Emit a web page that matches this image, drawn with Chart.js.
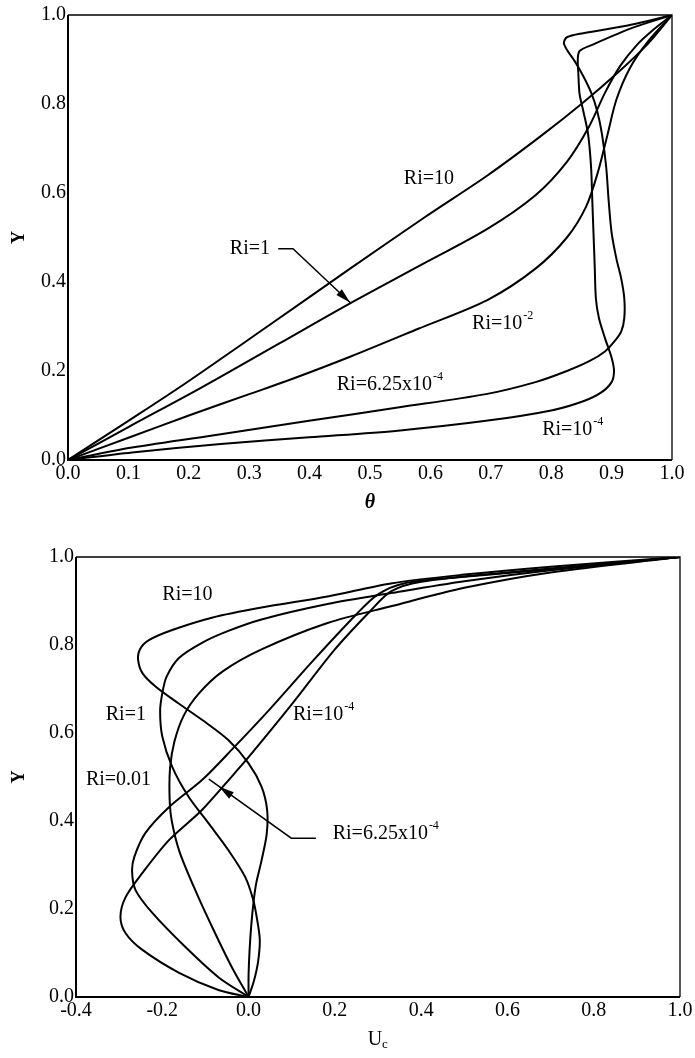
<!DOCTYPE html>
<html>
<head>
<meta charset="utf-8">
<script src="https://cdn.jsdelivr.net/npm/chart.js@4.4.1/dist/chart.umd.min.js"></script>
<style>
  body { margin: 0; background: #fff; width: 695px; height: 1058px; position: relative; overflow: hidden; }
  canvas { position: absolute; left: 0; }
  #topChart { top: 0; }
  #bottomChart { top: 540px; }
</style>
</head>
<body>
<canvas id="topChart" width="695" height="520"></canvas>
<canvas id="bottomChart" width="695" height="518"></canvas>
<script>
// --- data: top panel, theta vs Y ---
const thetaTicks = [0, 0.1, 0.2, 0.3, 0.4, 0.5, 0.6, 0.7, 0.8, 0.9, 1.0];
const yTicks = [0, 0.2, 0.4, 0.6, 0.8, 1.0];

const thetaRi10 = [[0,0],[0.1,0.088],[0.194,0.172],[0.33,0.30],[0.467,0.43],[0.59,0.545],[0.695,0.64],[0.78,0.725],[0.85,0.80],[0.91,0.87],[0.96,0.935],[1,1]];
const thetaRi1 = [[0,0],[0.1,0.074],[0.22,0.162],[0.35,0.262],[0.467,0.352],[0.58,0.435],[0.695,0.52],[0.774,0.595],[0.826,0.67],[0.863,0.75],[0.889,0.825],[0.914,0.885],[0.942,0.933],[0.97,0.968],[1,1]];
const thetaRi1e2 = [[0,0],[0.1,0.05],[0.2,0.1],[0.3,0.148],[0.363,0.178],[0.467,0.232],[0.58,0.295],[0.695,0.36],[0.774,0.43],[0.826,0.5],[0.858,0.57],[0.878,0.65],[0.893,0.73],[0.908,0.81],[0.93,0.88],[0.96,0.94],[1,1]];
const thetaRi625e4 = [[0,0],[0.106,0.028],[0.253,0.058],[0.399,0.088],[0.546,0.118],[0.692,0.148],[0.774,0.175],[0.826,0.2],[0.863,0.222],[0.889,0.244],[0.905,0.267],[0.916,0.289],[0.921,0.319],[0.921,0.363],[0.916,0.407],[0.908,0.452],[0.9,0.511],[0.895,0.585],[0.891,0.659],[0.884,0.733],[0.876,0.785],[0.866,0.826],[0.853,0.863],[0.839,0.896],[0.826,0.922],[0.821,0.937],[0.826,0.95],[0.853,0.959],[0.932,0.978],[1,1]];
const thetaRi1e4 = [[0,0],[0.106,0.017],[0.253,0.036],[0.399,0.051],[0.546,0.066],[0.692,0.088],[0.802,0.112],[0.853,0.132],[0.883,0.152],[0.9,0.175],[0.904,0.2],[0.9,0.23],[0.889,0.274],[0.879,0.319],[0.874,0.363],[0.872,0.437],[0.87,0.511],[0.868,0.585],[0.866,0.659],[0.861,0.733],[0.853,0.785],[0.847,0.822],[0.845,0.867],[0.844,0.9],[0.847,0.919],[0.868,0.933],[0.932,0.97],[1,1]];

// --- data: bottom panel, Uc vs Y ---
const uTicks = [-0.4, -0.2, 0, 0.2, 0.4, 0.6, 0.8, 1.0];

const uRi10 = [[0,0],[0,0.05],[0.002,0.1],[0.006,0.16],[0.012,0.22],[0.018,0.26],[0.03,0.31],[0.042,0.37],[0.043,0.425],[0.03,0.478],[0,0.531],[-0.047,0.584],[-0.108,0.63],[-0.162,0.667],[-0.215,0.705],[-0.246,0.736],[-0.256,0.766],[-0.252,0.79],[-0.231,0.811],[-0.177,0.834],[-0.085,0.862],[0.03,0.885],[0.183,0.91],[0.33,0.94],[0.5,0.96],[0.7,0.978],[1,1]];
const uRi1 = [[0,0],[0.012,0.035],[0.022,0.08],[0.026,0.13],[0.02,0.175],[0.011,0.22],[-0.008,0.273],[-0.047,0.334],[-0.093,0.395],[-0.139,0.455],[-0.177,0.523],[-0.2,0.592],[-0.205,0.65],[-0.2,0.69],[-0.19,0.728],[-0.162,0.77],[-0.108,0.805],[-0.047,0.832],[0.03,0.858],[0.183,0.893],[0.33,0.918],[0.5,0.945],[0.7,0.97],[1,1]];
const uRi001 = [[0,0],[-0.04,0.07],[-0.08,0.15],[-0.12,0.235],[-0.16,0.33],[-0.178,0.4],[-0.183,0.45],[-0.182,0.52],[-0.172,0.58],[-0.15,0.64],[-0.115,0.69],[-0.06,0.74],[0.03,0.79],[0.183,0.85],[0.33,0.888],[0.5,0.93],[0.7,0.965],[1,1]];
const uRi1e4 = [[0,0],[-0.07,0.045],[-0.147,0.114],[-0.223,0.191],[-0.262,0.243],[-0.27,0.285],[-0.265,0.318],[-0.239,0.373],[-0.184,0.432],[-0.108,0.493],[-0.04,0.561],[0.05,0.655],[0.15,0.765],[0.25,0.87],[0.3,0.915],[0.36,0.94],[0.5,0.955],[0.7,0.972],[1,1]];
const uRi625e4 = [[0,0],[-0.07,0.016],[-0.161,0.055],[-0.246,0.107],[-0.285,0.145],[-0.297,0.182],[-0.285,0.227],[-0.246,0.282],[-0.184,0.357],[-0.108,0.425],[-0.032,0.509],[0,0.545],[0.1,0.665],[0.2,0.79],[0.28,0.875],[0.33,0.922],[0.4,0.944],[0.6,0.965],[0.8,0.982],[1,1]];

const SERIF = '"Liberation Serif", "Times New Roman", serif';

// labels and arrows, in data units
const topLabels = [
  { text: "Ri=10", x: 0.556, y: 0.632 },
  { text: "Ri=1", x: 0.268, y: 0.475 },
  { text: "Ri=10", sup: "-2", x: 0.669, y: 0.307 },
  { text: "Ri=6.25x10", sup: "-4", x: 0.445, y: 0.168 },
  { text: "Ri=10", sup: "-4", x: 0.785, y: 0.067 },
];
const topArrow = [[0.348, 0.475], [0.3725, 0.475], [0.467, 0.354]];

const bottomLabels = [
  { text: "Ri=10", x: -0.2, y: 0.914 },
  { text: "Ri=1", x: -0.331, y: 0.641 },
  { text: "Ri=0.01", x: -0.377, y: 0.493 },
  { text: "Ri=10", sup: "-4", x: 0.103, y: 0.641 },
  { text: "Ri=6.25x10", sup: "-4", x: 0.195, y: 0.37 },
];
const bottomArrow = [[0.156, 0.361], [0.099, 0.361], [-0.092, 0.495]];
const bottomArrowTip = [-0.068, 0.478];

function toDataset(points) {
  return {
    data: points.map(([x, y]) => ({ x, y })),
    showLine: true,
    borderColor: "#000",
    borderWidth: 2,
    pointRadius: 0,
    tension: 0.3,
    fill: false,
  };
}

function drawFrame(chart) {
  const { ctx, chartArea: a } = chart;
  ctx.save();
  ctx.strokeStyle = "#000";
  ctx.lineWidth = 2;
  ctx.beginPath();
  ctx.moveTo(a.left, a.top);
  ctx.lineTo(a.left, a.bottom);
  ctx.lineTo(a.right, a.bottom);
  ctx.stroke();
  ctx.lineWidth = 1.3;
  ctx.beginPath();
  ctx.moveTo(a.left, a.top);
  ctx.lineTo(a.right, a.top);
  ctx.lineTo(a.right, a.bottom);
  ctx.stroke();
  ctx.restore();
}

function drawLabel(ctx, x, y, text, sup) {
  ctx.font = "20px " + SERIF;
  ctx.textBaseline = "middle";
  ctx.textAlign = "left";
  ctx.fillStyle = "#000";
  ctx.fillText(text, x, y);
  if (sup) {
    const w = ctx.measureText(text).width;
    ctx.font = "12px " + SERIF;
    ctx.fillText(sup, x + w + 1, y - 8);
  }
}

function arrowHead(ctx, tx, ty, fx, fy) {
  const ang = Math.atan2(ty - fy, tx - fx);
  const len = 15, half = 4;
  const bx = tx - len * Math.cos(ang), by = ty - len * Math.sin(ang);
  ctx.beginPath();
  ctx.moveTo(tx, ty);
  ctx.lineTo(bx + half * Math.sin(ang), by - half * Math.cos(ang));
  ctx.lineTo(bx - half * Math.sin(ang), by + half * Math.cos(ang));
  ctx.closePath();
  ctx.fill();
}

function polyline(ctx, sx, sy, pts) {
  ctx.beginPath();
  pts.forEach(([u, v], i) => {
    const px = sx.getPixelForValue(u), py = sy.getPixelForValue(v);
    if (i === 0) ctx.moveTo(px, py);
    else ctx.lineTo(px, py);
  });
  ctx.stroke();
}

function axisOptions(min, max, ticks, fitSize, isX, title) {
  return {
    type: "linear",
    min: min,
    max: max,
    afterBuildTicks: (s) => { s.ticks = ticks.map((v) => ({ value: v })); },
    afterFit: (s) => { if (isX) s.height = fitSize; else s.width = fitSize; },
    ticks: {
      callback: (v) => v.toFixed(1),
      font: { family: SERIF, size: 20 },
      color: "#000",
      padding: isX ? 2 : 2,
      maxRotation: 0,
      autoSkip: false,
    },
    grid: { display: false, drawTicks: false },
    border: { display: false },
    title: title,
  };
}

// --- top chart ---
const topAnno = {
  id: "topAnno",
  afterDraw(chart) {
    const { ctx, scales: { x, y } } = chart;
    drawFrame(chart);
    ctx.save();
    topLabels.forEach((l) => drawLabel(ctx, x.getPixelForValue(l.x), y.getPixelForValue(l.y), l.text, l.sup));
    ctx.strokeStyle = "#000";
    ctx.lineWidth = 1.5;
    polyline(ctx, x, y, topArrow);
    const n = topArrow.length;
    arrowHead(ctx, x.getPixelForValue(topArrow[n - 1][0]), y.getPixelForValue(topArrow[n - 1][1]),
      x.getPixelForValue(topArrow[n - 2][0]), y.getPixelForValue(topArrow[n - 2][1]));
    ctx.restore();
  },
};

new Chart(document.getElementById("topChart"), {
  type: "scatter",
  data: {
    datasets: [thetaRi10, thetaRi1, thetaRi1e2, thetaRi625e4, thetaRi1e4].map(toDataset),
  },
  options: {
    responsive: false,
    animation: false,
    layout: { padding: { left: 0, right: 23, top: 15, bottom: 0 } },
    plugins: { legend: { display: false }, tooltip: { enabled: false } },
    scales: {
      x: axisOptions(0, 1, thetaTicks, 60, true, {
        display: true, text: "\u03b8", color: "#000",
        font: { family: SERIF, size: 20, weight: "bold", style: "italic" },
        padding: { top: 0, bottom: 5 },
      }),
      y: axisOptions(0, 1, yTicks, 68, false, {
        display: true, text: "Y", color: "#000",
        font: { family: SERIF, size: 18, weight: "bold" },
        padding: { top: 9, bottom: 0 },
      }),
    },
  },
  plugins: [topAnno],
});

// --- bottom chart ---
const bottomAnno = {
  id: "bottomAnno",
  afterDraw(chart) {
    const { ctx, scales: { x, y }, chartArea: a } = chart;
    drawFrame(chart);
    ctx.save();
    bottomLabels.forEach((l) => drawLabel(ctx, x.getPixelForValue(l.x), y.getPixelForValue(l.y), l.text, l.sup));
    ctx.strokeStyle = "#000";
    ctx.lineWidth = 1.5;
    polyline(ctx, x, y, bottomArrow);
    const n = bottomArrow.length;
    arrowHead(ctx, x.getPixelForValue(bottomArrowTip[0]), y.getPixelForValue(bottomArrowTip[1]),
      x.getPixelForValue(bottomArrow[n - 2][0]), y.getPixelForValue(bottomArrow[n - 2][1]));
    // x title U with subscript c
    const cx = (a.left + a.right) / 2;
    ctx.font = "20px " + SERIF;
    ctx.textBaseline = "middle";
    ctx.textAlign = "center";
    ctx.fillText("U", cx - 3, 500);
    ctx.font = "13px " + SERIF;
    ctx.textAlign = "left";
    ctx.fillText("c", cx + 4, 505);
    ctx.restore();
  },
};

new Chart(document.getElementById("bottomChart"), {
  type: "scatter",
  data: {
    datasets: [uRi10, uRi1, uRi001, uRi1e4, uRi625e4].map(toDataset),
  },
  options: {
    responsive: false,
    animation: false,
    layout: { padding: { left: 0, right: 15, top: 17, bottom: 0 } },
    plugins: { legend: { display: false }, tooltip: { enabled: false } },
    scales: {
      x: axisOptions(-0.4, 1, uTicks, 61, true, { display: false }),
      y: axisOptions(0, 1, yTicks, 76, false, {
        display: true, text: "Y", color: "#000",
        font: { family: SERIF, size: 18, weight: "bold" },
        padding: { top: 9, bottom: 0 },
      }),
    },
  },
  plugins: [bottomAnno],
});
</script>
</body>
</html>
